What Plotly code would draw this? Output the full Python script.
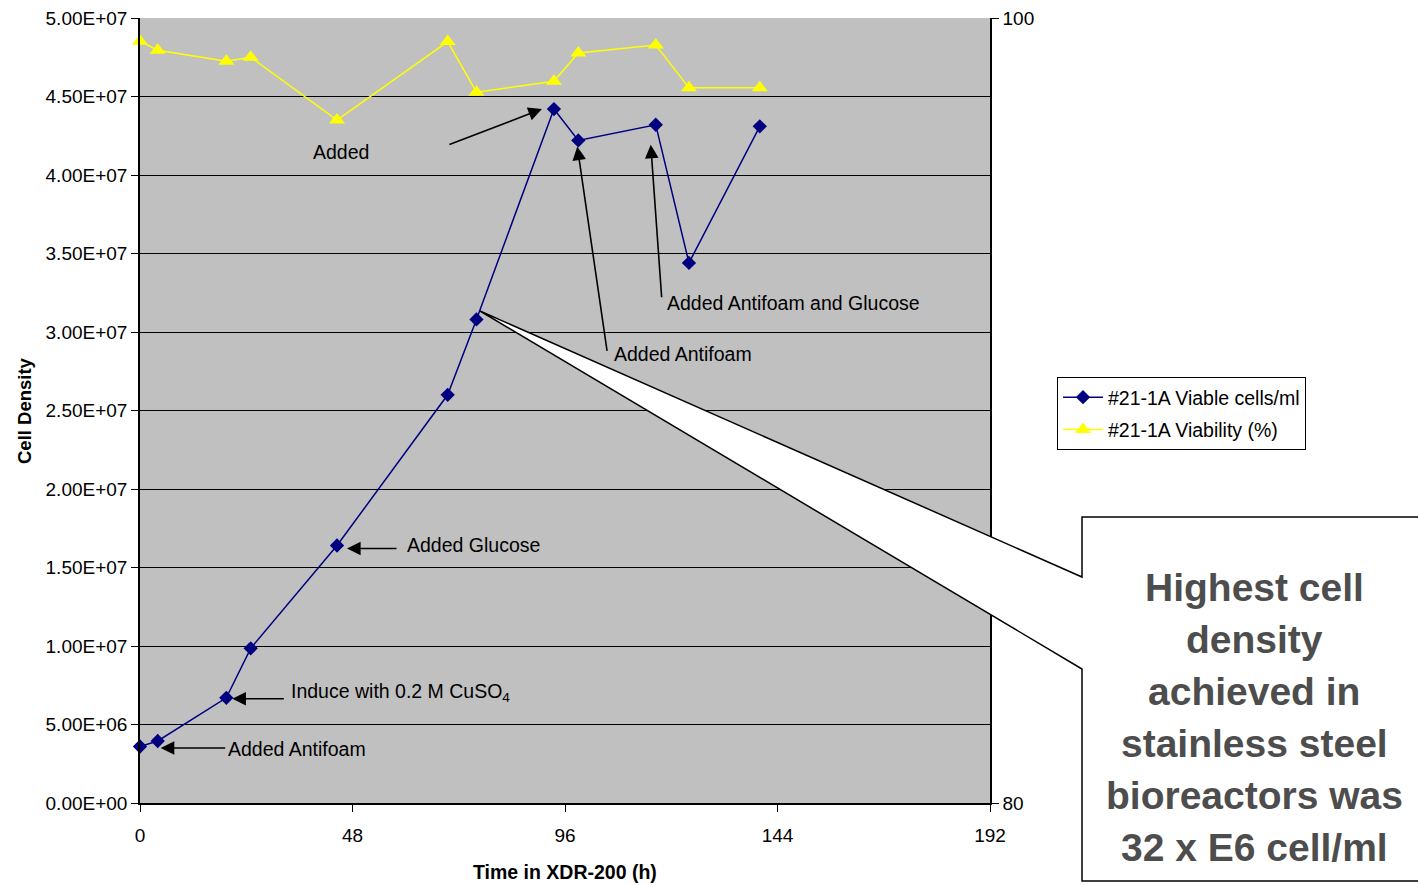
import plotly.graph_objects as go

# ---- data -------------------------------------------------------------
time_h = [0, 4, 19.5, 25, 44.5, 69.5, 76, 93.5, 99, 116.5, 124, 140]
viable_cells = [3.6e6, 3.95e6, 6.7e6, 9.85e6, 16.4e6, 26.0e6, 30.8e6,
                44.2e6, 42.2e6, 43.2e6, 34.4e6, 43.1e6]
viability_pct = [99.41, 99.18, 98.90, 99.00, 97.40, 99.40, 98.11,
                 98.39, 99.11, 99.31, 98.22, 98.22]

x_ticks = [0, 48, 96, 144, 192]
y_ticks = [i * 5e6 for i in range(11)]
y_tick_labels = [f"{v:.2E}" for v in y_ticks]
y2_ticks = [80, 100]

series_names = ["#21-1A Viable cells/ml", "#21-1A Viability (%)"]
callout_lines = ["Highest cell", "density", "achieved in",
                 "stainless steel", "bioreactors was", "32 x E6 cell/ml"]

# ---- page geometry (pixels) --------------------------------------------
W, H = 1418, 885
L, R, T, B = 140, 990, 18, 803


def px(x):
    return (x - L) / (R - L)


def py(y):
    return (B - y) / (B - T)


FONT = "Liberation Sans, Arial, sans-serif"
NAVY = "#000080"
YELLOW = "#FFFF00"

fig = go.Figure()
fig.add_trace(go.Scatter(
    x=time_h, y=viable_cells, name=series_names[0], mode="lines+markers",
    line=dict(color=NAVY, width=1.5),
    marker=dict(symbol="diamond", size=11, color=NAVY),
    cliponaxis=False, yaxis="y", legendgroup="a"))
fig.add_trace(go.Scatter(
    x=time_h, y=viability_pct, name=series_names[1], mode="lines+markers",
    line=dict(color=YELLOW, width=1.5),
    marker=dict(symbol="triangle-up", size=14, color=YELLOW),
    cliponaxis=False, yaxis="y2", legendgroup="b"))

annotations = []

# event arrows: (point index, head shift x, head shift y, tail dx, tail dy)
arrows = [
    (1, 3, -7, 66, 0),
    (2, 6, -1, 53, 0),
    (4, 10, -3, 51, 0),
    (7, -12, 0, -94, 36),
    (8, -1, -6, 30, 206),
    (9, -5, -20, 11, 154),
]
for i, sx, sy, dx, dy in arrows:
    annotations.append(dict(
        x=time_h[i], y=viable_cells[i], xref="x", yref="y", text="",
        showarrow=True, arrowhead=2, arrowsize=1.7, arrowwidth=1.6,
        arrowcolor="black", ax=dx, ay=dy, xshift=sx, yshift=sy))

# event labels (pixel positions of left edge / vertical centre)
labels = [
    ("Added Antifoam", 226, 749),
    ("Induce with 0.2 M CuSO<sub>4</sub>", 289, 692),
    ("Added Glucose", 405, 545),
    ("Added", 311, 152),
    ("Added Antifoam and Glucose", 665, 303),
    ("Added Antifoam", 612, 354),
]
for text, lx, ly in labels:
    annotations.append(dict(
        x=px(lx), y=py(ly), xref="paper", yref="paper", text=text,
        showarrow=False, xanchor="left", yanchor="middle",
        font=dict(family=FONT, size=19.5, color="black")))

# axis titles
annotations.append(dict(
    x=px(24), y=py(411), xref="paper", yref="paper", text="<b>Cell Density</b>",
    textangle=-90, showarrow=False, xanchor="center", yanchor="middle",
    font=dict(family=FONT, size=18.5, color="black")))
annotations.append(dict(
    x=px(565), y=py(872), xref="paper", yref="paper",
    text="<b>Time in XDR-200 (h)</b>", showarrow=False,
    xanchor="center", yanchor="middle",
    font=dict(family=FONT, size=19.5, color="black")))

# callout text
for k, line in enumerate(callout_lines):
    annotations.append(dict(
        x=px(1254), y=py(587 + k * 52), xref="paper", yref="paper",
        text=f"<b>{line}</b>", showarrow=False,
        xanchor="center", yanchor="middle",
        font=dict(family=FONT, size=39, color="#4D4D4D")))

# callout balloon pointing at the highest-density note
tip = (480, 311)
pts = [tip, (1082, 577), (1082, 517), (1440, 517), (1440, 881),
       (1082, 881), (1082, 669), tip]
path = "M " + " L ".join(f"{px(a):.5f},{py(b):.5f}" for a, b in pts) + " Z"
shapes = [dict(type="path", xref="paper", yref="paper", path=path,
               fillcolor="white", line=dict(color="black", width=1.5),
               layer="above")]

fig.update_layout(
    width=W, height=H,
    margin=dict(l=L, r=W - R, t=T, b=H - B, pad=0, autoexpand=False),
    paper_bgcolor="white", plot_bgcolor="#C0C0C0",
    font=dict(family=FONT, size=19, color="black"),
    showlegend=True,
    legend=dict(x=px(1057), y=py(377), xanchor="left", yanchor="top",
                bgcolor="white", bordercolor="black", borderwidth=1,
                font=dict(family=FONT, size=19.5, color="black"),
                tracegroupgap=4, itemwidth=40),
    xaxis=dict(range=[0, 192], tickvals=x_ticks, ticks="outside", ticklen=7,
               tickcolor="black", showline=True, linecolor="black",
               linewidth=1.5, showgrid=False, zeroline=False,
               ticklabelstandoff=7, automargin=False,
               tickfont=dict(family=FONT, size=19)),
    yaxis=dict(range=[0, 5e7], tickvals=y_ticks, ticktext=y_tick_labels,
               ticks="outside", ticklen=7, tickcolor="black", showline=True,
               linecolor="black", linewidth=1.5, showgrid=True,
               gridcolor="black", gridwidth=1, zeroline=False,
               automargin=False, tickfont=dict(family=FONT, size=19)),
    yaxis2=dict(range=[80, 100], tickvals=y2_ticks, overlaying="y",
                side="right", ticks="outside", ticklen=7, tickcolor="black",
                showline=True, linecolor="black", linewidth=1.5,
                showgrid=False, zeroline=False, automargin=False,
                tickfont=dict(family=FONT, size=19)),
    annotations=annotations,
    shapes=shapes,
)

fig.write_html("out.html")
